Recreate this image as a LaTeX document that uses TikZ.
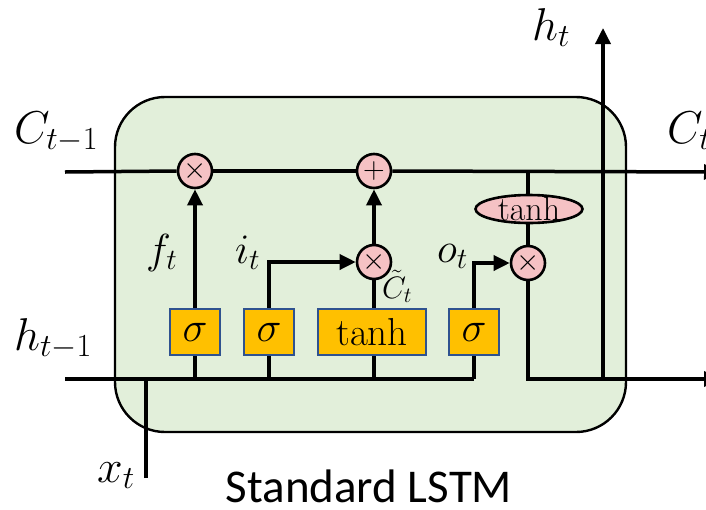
\RequirePackage{fix-cm}
\documentclass[tikz,border=0pt]{standalone}
\usepackage{fontspec}
\newfontfamily\carlito{Carlito}
\usetikzlibrary{shapes.geometric,arrows.meta}
\definecolor{cellgreen}{HTML}{E2EFDA}
\definecolor{oppink}{HTML}{F5C2C4}
\definecolor{gateyellow}{HTML}{FFC000}
\definecolor{gateborder}{HTML}{2F528F}
\tikzset{
  wire/.style={line width=3.5pt},
  arr/.style={wire,-{Triangle[length=16pt,width=15pt]}},
  op/.style={circle,draw=black,line width=2.6pt,fill=oppink,minimum size=34pt,inner sep=0pt,font=\fontsize{30}{32}\selectfont},
  gate/.style={rectangle,draw=gateborder,line width=2pt,fill=gateyellow,minimum height=46pt,minimum width=50pt,inner sep=0pt,font=\fontsize{42}{46}\selectfont},
  ell/.style={ellipse,draw=black,line width=2.6pt,fill=oppink,minimum width=107pt,minimum height=28pt,inner xsep=0pt,inner ysep=-6pt,font=\fontsize{34}{36}\selectfont},
  lbl/.style={inner sep=0pt,anchor=base west,font=\fontsize{46}{50}\selectfont},
  slbl/.style={inner sep=0pt,anchor=base west,font=\fontsize{42}{46}\selectfont},
}
\begin{document}
\begin{tikzpicture}[x=1pt,y=-1pt]
\useasboundingbox (0,0) rectangle (706,509);
% cell
\draw[fill=cellgreen,line width=2.4pt,rounded corners=50pt] (115,97) rectangle (626,432);
% coordinates
\coordinate (cin) at (65,172);
\coordinate (cout) at (720,172);
\coordinate (hin) at (65,379);
\coordinate (hend) at (474,379);
\coordinate (hout) at (720,379);
\coordinate (xin) at (146,478);
\coordinate (xj) at (146,379);
\coordinate (htop) at (603,28);
\coordinate (hj) at (603,379);
% ops
\node[op] (m1) at (195,171) {$\times$};
\node[op] (pl) at (374,171) {$+$};
\node[op] (m2) at (374,262) {$\times$};
\node[op] (m3) at (528,263) {$\times$};
\node[ell] (th) at (529,209) {tanh};
% gates
\node[gate] (g1) at (195,332) {$\sigma$};
\node[gate] (g2) at (269,332) {$\sigma$};
\node[gate,minimum width=108pt,font=\fontsize{39}{42}\selectfont] (g3) at (372,332) {$\tanh$};
\node[gate] (g4) at (474,332) {$\sigma$};
% cell state line
\draw[wire] (cin) -- (m1.west);
\draw[wire] (m1.east) -- (pl.west);
\draw[arr] (pl.east) -- (cout);
\draw[wire] (m3 |- cin) -- (m3 |- th.north);
\draw[wire] (m3 |- th.south) -- (m3.north);
% hidden bus
\draw[wire] (hin) -- (hend);
\draw[wire] (xin) -- (xj);
\draw[wire] (g1.south) -- (g1.south |- hin);
\draw[wire] (g2.south) -- (g2.south |- hin);
\draw[wire] (g3.south -| m2) -- (m2 |- hin);
\draw[wire] (g4.south) -- (hend);
% gate outputs
\draw[arr] (g1.north) -- (m1.south);
\draw[arr] (g2.north) |- (m2.west);
\draw[wire] (g3.north -| m2) -- (m2.south);
\draw[arr] (m2.north) -- (pl.south);
\draw[arr] (g4.north) |- (m3.west);
% output
\draw[wire] (m3.south) |- (hj);
\draw[arr] (hj) -- (hout);
\draw[arr] (hj) -- (htop);
% labels
\node[lbl] (lc1) at (14,143) {$C_{t-1}$};
\node[lbl] (lc2) at (667,143) {$C_t$};
\node[lbl] (lht) at (532,40) {$h_t$};
\node[lbl] (lh1) at (14,350) {$h_{t-1}$};
\node[lbl] (lx) at (97,482) {$x_t$};
\node[slbl] (lf) at (146,263) {$f_t$};
\node[slbl] (li) at (235,263) {$i_t$};
\node[slbl] (lo) at (437,262) {$o_t$};
\node[inner sep=0pt,anchor=base west,font=\fontsize{31}{33}\selectfont] (lct) at (382,298) {$\tilde{C}_t$};
\node[font=\carlito\fontsize{47}{50}\selectfont,inner sep=0pt,anchor=base] (title) at (369,502) {Standard LSTM};
\end{tikzpicture}
\end{document}
